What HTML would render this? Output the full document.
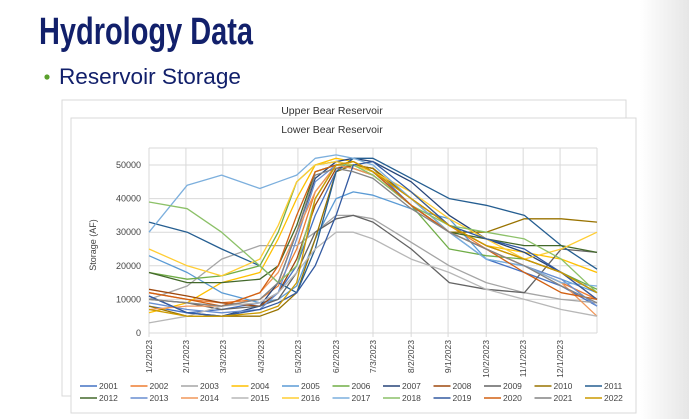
<!DOCTYPE html>
<html><head><meta charset="utf-8">
<style>
html,body{margin:0;padding:0;width:689px;height:419px;overflow:hidden;background:#fff;font-family:"Liberation Sans",sans-serif;}
</style></head>
<body>
<svg id="svg" width="689" height="419" viewBox="0 0 689 419" xmlns="http://www.w3.org/2000/svg">
<defs>
<linearGradient id="rg" x1="0" x2="1" y1="0" y2="0">
<stop offset="0" stop-color="#ffffff"/><stop offset="1" stop-color="#e6e6e6"/>
</linearGradient>
</defs>
<rect x="0" y="0" width="689" height="419" fill="#fff"/>
<rect x="640" y="0" width="49" height="419" fill="url(#rg)"/>
<text x="39" y="44" font-size="38" font-weight="bold" fill="#12206b" textLength="214" lengthAdjust="spacingAndGlyphs">Hydrology Data</text>
<circle cx="47" cy="77" r="2.6" fill="#5aa02c"/>
<text x="59" y="84" font-size="22" fill="#12206b" textLength="182" lengthAdjust="spacingAndGlyphs">Reservoir Storage</text>
<rect x="62" y="100" width="564" height="296" fill="#fff" stroke="#d9d9d9"/>
<text x="332" y="114" font-size="10.5" fill="#333" text-anchor="middle">Upper Bear Reservoir</text>
<rect x="71" y="118" width="565" height="295" fill="#fff" stroke="#d9d9d9"/>
<text x="332" y="133" font-size="10.5" fill="#333" text-anchor="middle">Lower Bear Reservoir</text>
<text transform="translate(96,245) rotate(-90)" font-size="9" fill="#444" text-anchor="middle">Storage (AF)</text>
<g id="grid"></g><g id="series"></g><g id="axes"></g><g id="legend"></g>
</svg>
<script>
const yTicks=[0,10000,20000,30000,40000,50000];
const xTickDays=[0,30,60,91,121,152,182,213,243,274,304,334];
const xTickLabels=["1/2/2023","2/1/2023","3/3/2023","4/3/2023","5/3/2023","6/2/2023","7/3/2023","8/2/2023","9/1/2023","10/2/2023","11/1/2023","12/1/2023"];
const sampleDays=[0,31,59,90,105,120,135,152,166,182,213,244,274,305,335,364];
const years=["2001","2002","2003","2004","2005","2006","2007","2008","2009","2010","2011","2012","2013","2014","2015","2016","2017","2018","2019","2020","2021","2022"];
const colors=["#4472C4","#ED7D31","#A5A5A5","#FFC000","#5B9BD5","#70AD47","#264478","#9E480E","#636363","#997300","#255E91","#43682B","#698ED0","#F1975A","#B7B7B7","#FFCD33","#7CAFDD","#8CC168","#335AA1","#D26012","#848484","#CC9A00"];
const s2001=[8,6,7,9,12,20,35,48,50,49,38,30,22,18,14,8];
const s2002=[12,10,9,10,14,25,42,50,51,48,40,32,25,20,15,10];
const s2003=[10,14,22,26,26,26,30,35,35,34,27,20,15,12,10,9];
const s2004=[6,9,15,18,28,40,50,52,51,48,42,32,26,24,22,18];
const s2005=[23,18,12,9,10,14,28,40,42,41,37,34,22,20,16,12];
const s2006=[18,16,17,20,30,45,50,51,50,48,38,25,23,22,18,13];
const s2007=[11,6,5,8,15,30,46,51,52,51,45,35,28,24,18,12];
const s2008=[13,11,9,8,12,22,38,49,50,49,40,32,26,22,18,10];
const s2009=[10,9,7,8,10,18,30,34,35,33,25,15,13,12,25,24];
const s2010=[8,5,5,5,7,12,28,48,50,49,40,30,30,34,34,33];
const s2011=[33,30,25,20,15,12,25,48,52,52,46,40,38,35,26,19];
const s2012=[18,15,15,16,20,32,48,50,49,47,38,30,28,26,26,24];
const s2013=[9,7,6,7,12,28,45,50,50,48,38,30,25,20,16,8];
const s2014=[7,8,8,12,18,30,42,50,49,47,38,30,25,20,15,5];
const s2015=[3,5,8,9,12,18,25,30,30,28,22,18,13,10,7,5];
const s2016=[25,20,17,22,32,45,50,51,50,48,42,34,28,22,25,30];
const s2017=[30,44,47,43,45,47,52,53,52,50,40,30,22,20,15,14];
const s2018=[39,37,30,20,15,20,40,50,50,47,38,32,30,28,22,12];
const s2019=[11,6,5,7,9,12,20,35,50,51,42,32,28,25,18,10];
const s2020=[12,10,8,12,20,35,48,50,51,48,38,30,25,18,12,10];
const s2021=[10,9,8,10,15,30,47,49,48,46,37,30,25,20,14,9];
const s2022=[7,5,5,6,8,15,40,50,51,48,40,32,26,22,18,12];
const seriesData=[s2001,s2002,s2003,s2004,s2005,s2006,s2007,s2008,s2009,s2010,s2011,s2012,s2013,s2014,s2015,s2016,s2017,s2018,s2019,s2020,s2021,s2022];

const NS="http://www.w3.org/2000/svg";
const X0=149,X1=597,Y0=333,Ytop=148;
function xs(d){return X0+(X1-X0)*d/364;}
function ys(v){return Y0-(Y0-165)*v/50000;}
function mk(tag,attrs,parent){const e=document.createElementNS(NS,tag);for(const k in attrs)e.setAttribute(k,attrs[k]);parent.appendChild(e);return e;}
const grid=document.getElementById('grid'),axes=document.getElementById('axes'),ser=document.getElementById('series'),leg=document.getElementById('legend');
yTicks.forEach(v=>{
  const l=mk('line',{x1:X0,x2:X1,y1:ys(v),y2:ys(v),stroke:'#d9d9d9','stroke-width':1},grid);
  
  
  const t=mk('text',{x:X0-8,y:ys(v)+3,'font-size':9,fill:'#444','text-anchor':'end'},axes);
  t.textContent=v;
  
  
});
mk('line',{x1:X0,x2:X1,y1:Ytop,y2:Ytop,stroke:'#d9d9d9'},grid);
xTickDays.forEach((d,i)=>{
  const l=mk('line',{x1:xs(d),x2:xs(d),y1:Ytop,y2:Y0+4,stroke:'#d9d9d9'},grid);
  
  
  const t=mk('text',{transform:`translate(${xs(d)+3},${Y0+7}) rotate(-90)`,'font-size':8.5,fill:'#444','text-anchor':'end'},axes);
  t.textContent=xTickLabels[i];
  
  
});
mk('line',{x1:X1,x2:X1,y1:Ytop,y2:Y0,stroke:'#d9d9d9'},grid);
seriesData.forEach((arr,i)=>{
  const pts=arr.map((v,j)=>xs(sampleDays[j]).toFixed(1)+','+ys(v*1000).toFixed(1)).join(' ');
  const p=mk('polyline',{points:pts,fill:'none',stroke:colors[i],'stroke-width':1.3,'stroke-linejoin':'round'},ser);
  
  
});
years.forEach((y,i)=>{
  const r=Math.floor(i/11),c=i%11;
  const tx=100+c*50.5,ty=389+r*12;
  const l=mk('line',{x1:tx-20,x2:tx-3,y1:ty-3,y2:ty-3,stroke:colors[i],'stroke-width':1.5},leg);
  
  
  const t=mk('text',{x:tx-1,y:ty,'font-size':8.5,fill:'#444'},leg);
  t.textContent=y;
  
  
});
</script>
</body></html>
